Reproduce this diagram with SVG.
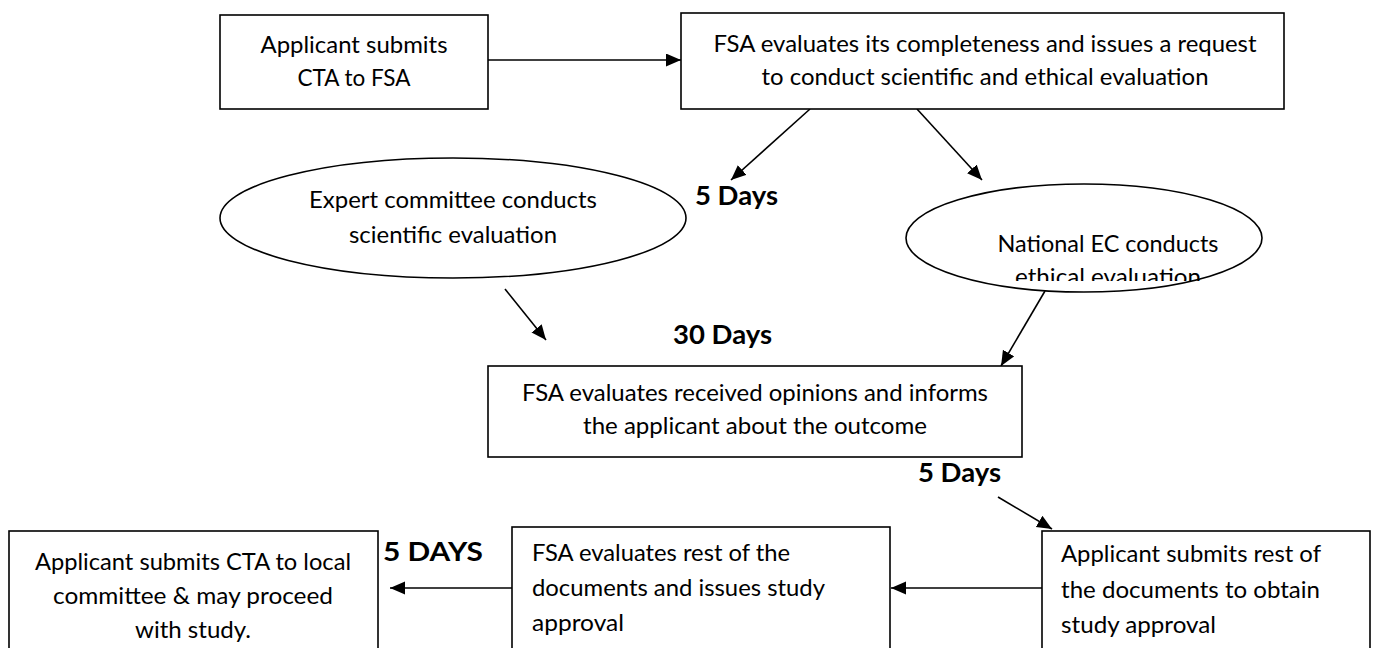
<svg xmlns="http://www.w3.org/2000/svg" width="1375" height="648" viewBox="0 0 1375 648">
<style>
.box{fill:#fff;stroke:#000;stroke-width:1.6}
.t{font-family:Lato,"Liberation Sans",sans-serif;font-size:23px;fill:#000}
.c{text-anchor:middle}
.b{font-family:Lato,"Liberation Sans",sans-serif;font-size:26px;font-weight:bold;fill:#000}
.con{stroke:#000;stroke-width:1.6;fill:none;marker-end:url(#ah)}
</style>
<defs>
<marker id="ah" markerUnits="userSpaceOnUse" markerWidth="16" markerHeight="14" refX="15" refY="6.5" orient="auto">
<path d="M0,0 L15,6.5 L0,13 z" fill="#000"/>
</marker>
<clipPath id="clipEC"><rect x="900" y="180" width="370" height="101"/></clipPath>
</defs>
<rect width="1375" height="648" fill="#fff"/>

<g id="connectors">
<line class="con" x1="488" y1="60" x2="681" y2="60"/>
<line class="con" x1="810" y1="109" x2="731" y2="180"/>
<line class="con" x1="917" y1="109" x2="982" y2="180"/>
<line class="con" x1="505" y1="289" x2="546" y2="340"/>
<line class="con" x1="1045" y1="291" x2="1001" y2="366"/>
<line class="con" x1="998" y1="497" x2="1052" y2="529"/>
<line class="con" x1="1042" y1="588" x2="891" y2="588"/>
<line class="con" x1="512" y1="588" x2="390" y2="588"/>
</g>

<g id="n1">
<rect class="box" x="220" y="15" width="268" height="94"/>
<text class="t c" x="354" y="53" textLength="187" lengthAdjust="spacingAndGlyphs">Applicant submits</text>
<text class="t c" x="354" y="86" textLength="113" lengthAdjust="spacingAndGlyphs">CTA to FSA</text>
</g>

<g id="n2">
<rect class="box" x="681" y="13" width="603" height="96"/>
<text class="t c" x="985" y="52" textLength="543" lengthAdjust="spacingAndGlyphs">FSA evaluates its completeness and issues a request</text>
<text class="t c" x="985" y="85" textLength="447" lengthAdjust="spacingAndGlyphs">to conduct scientific and ethical evaluation</text>
</g>

<g id="n3">
<ellipse class="box" cx="453" cy="218" rx="233" ry="60"/>
<text class="t c" x="453" y="208" textLength="288" lengthAdjust="spacingAndGlyphs">Expert committee conducts</text>
<text class="t c" x="453" y="243" textLength="208" lengthAdjust="spacingAndGlyphs">scientific evaluation</text>
</g>

<g id="lbl1">
<text class="b" x="695" y="205" textLength="83" lengthAdjust="spacingAndGlyphs">5 Days</text>
</g>

<g id="n4">
<ellipse class="box" cx="1084" cy="238" rx="178" ry="54"/>
<g clip-path="url(#clipEC)">
<text class="t c" x="1108" y="252" textLength="221" lengthAdjust="spacingAndGlyphs">National EC conducts</text>
<text class="t c" x="1108" y="285" textLength="186" lengthAdjust="spacingAndGlyphs">ethical evaluation</text>
</g>
</g>

<g id="lbl2">
<text class="b" x="673" y="344" textLength="99" lengthAdjust="spacingAndGlyphs">30 Days</text>
</g>

<g id="n5">
<rect class="box" x="488" y="366" width="534" height="91"/>
<text class="t c" x="755" y="401" textLength="466" lengthAdjust="spacingAndGlyphs">FSA evaluates received opinions and informs</text>
<text class="t c" x="755" y="434" textLength="344" lengthAdjust="spacingAndGlyphs">the applicant about the outcome</text>
</g>

<g id="lbl3">
<text class="b" x="918" y="482" textLength="83" lengthAdjust="spacingAndGlyphs">5 Days</text>
</g>

<g id="n6">
<rect class="box" x="1042" y="531" width="328" height="140"/>
<text class="t" x="1061" y="562" textLength="260" lengthAdjust="spacingAndGlyphs">Applicant submits rest of</text>
<text class="t" x="1061" y="598" textLength="259" lengthAdjust="spacingAndGlyphs">the documents to obtain</text>
<text class="t" x="1061" y="633" textLength="155" lengthAdjust="spacingAndGlyphs">study approval</text>
</g>

<g id="n7">
<rect class="box" x="512" y="527" width="378" height="140"/>
<text class="t" x="532" y="561" textLength="258" lengthAdjust="spacingAndGlyphs">FSA evaluates rest of the</text>
<text class="t" x="532" y="596" textLength="293" lengthAdjust="spacingAndGlyphs">documents and issues study</text>
<text class="t" x="532" y="631" textLength="92" lengthAdjust="spacingAndGlyphs">approval</text>
</g>

<g id="lbl4">
<text class="b" x="383" y="561" textLength="100" lengthAdjust="spacingAndGlyphs">5 DAYS</text>
</g>

<g id="n8">
<rect class="box" x="9" y="531" width="369" height="140"/>
<text class="t c" x="193" y="570" textLength="316" lengthAdjust="spacingAndGlyphs">Applicant submits CTA to local</text>
<text class="t c" x="193" y="604" textLength="280" lengthAdjust="spacingAndGlyphs">committee &amp; may proceed</text>
<text class="t c" x="193" y="638" textLength="116" lengthAdjust="spacingAndGlyphs">with study.</text>
</g>
</svg>
